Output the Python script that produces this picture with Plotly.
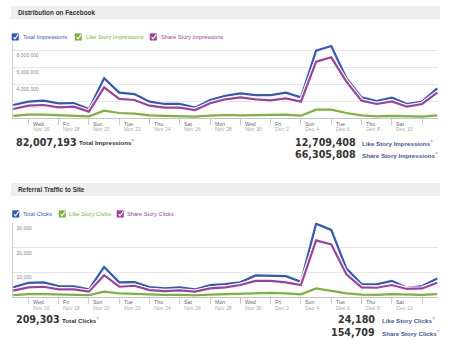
import pandas as pd
import plotly.graph_objects as go

W, H = 452, 355

# ---------------- data ----------------
dates = pd.date_range("2011-11-15", "2011-12-13", freq="D")

impr_names = ["Total Impressions", "Like Story Impressions", "Share Story Impressions"]
total_impr = [1.53, 1.92, 2.04, 1.73, 1.76, 1.06, 4.67, 2.98, 2.82, 1.92, 1.65, 1.65, 1.22, 2.12, 2.60,
              2.90, 2.70, 2.70, 2.98, 2.43, 7.92, 8.47, 4.67, 2.43, 2.00, 2.39, 1.65, 1.92, 3.49]
like_impr = [0.24, 0.39, 0.39, 0.35, 0.31, 0.20, 0.86, 0.59, 0.51, 0.31, 0.24, 0.24, 0.16, 0.27, 0.35,
             0.31, 0.31, 0.35, 0.39, 0.27, 0.98, 0.98, 0.59, 0.31, 0.20, 0.24, 0.16, 0.16, 0.31]
share_impr = [1.06, 1.45, 1.53, 1.26, 1.33, 0.75, 3.61, 2.24, 2.12, 1.45, 1.22, 1.22, 0.94, 1.73, 2.20,
              2.43, 2.20, 2.08, 2.31, 1.92, 6.63, 7.14, 4.27, 2.04, 1.65, 1.96, 1.33, 1.65, 2.98]

click_names = ["Total Clicks", "Like Story Clicks", "Share Story Clicks"]
total_clicks = [3.85, 5.7, 5.9, 4.4, 4.25, 3.0, 12.2, 5.9, 6.0, 4.0, 3.4, 3.85, 3.0, 4.8, 5.2,
                5.9, 8.7, 8.7, 8.4, 6.1, 29.8, 27.3, 11.5, 5.2, 5.1, 6.5, 3.7, 4.4, 7.5]
like_clicks = [0.7, 1.1, 1.1, 0.9, 0.9, 0.7, 2.1, 1.4, 1.2, 0.9, 0.8, 0.8, 0.55, 0.9, 1.1,
               1.4, 1.5, 1.6, 1.4, 1.0, 3.4, 2.5, 1.4, 0.9, 0.8, 1.1, 0.8, 0.8, 1.1]
share_clicks = [2.5, 3.85, 4.1, 3.0, 3.0, 2.1, 8.8, 4.1, 4.5, 2.75, 2.35, 2.6, 2.1, 3.4, 3.85,
                4.8, 6.5, 6.5, 5.9, 4.8, 23.0, 21.4, 9.2, 3.85, 3.7, 4.8, 3.2, 3.4, 5.7]

impr_totals = [82007193, 12709408, 66305808]
click_totals = [209303, 24180, 154709]

titles = ["Distribution on Facebook", "Referral Traffic to Site"]

tick_dates = pd.date_range("2011-11-16", "2011-12-10", freq="2D")
tick_days = ["Wed", "Fri", "Sun", "Tue", "Thu", "Sat", "Mon", "Wed", "Fri", "Sun", "Tue", "Thu", "Sat"]
tick_dates_txt = ["Nov 16", "Nov 18", "Nov 20", "Nov 22", "Nov 24", "Nov 26", "Nov 28",
                  "Nov 30", "Dec 2", "Dec 4", "Dec 6", "Dec 8", "Dec 10"]

impr_ticks = [2e6, 4e6, 6e6, 8e6]
impr_ticktext = ["2,000,000", "4,000,000", "6,000,000", "8,000,000"]
click_ticks = [10000, 20000, 30000]
click_ticktext = ["10,000", "20,000", "30,000"]

# ---------------- style ----------------
COLORS = ["#3158c0", "#7ab43c", "#a0409e"]
FB_BLUE = "#3b5998"
FONT = "Liberation Sans"
NUMFONT = "DejaVu Sans"


def X(px):
    return px / W


def Y(py):
    return 1 - py / H


fig = go.Figure()

# traces
impr_series = [total_impr, like_impr, share_impr]
click_series = [total_clicks, like_clicks, share_clicks]
for series, scale, ya in [(impr_series, 1e6, "y"), (click_series, 1e3, "y2")]:
    xa = "x" if ya == "y" else "x2"
    for vals, col in zip(series, COLORS):
        yv = [v * scale for v in vals]
        fig.add_trace(go.Scatter(x=dates, y=yv, mode="lines", xaxis=xa, yaxis=ya,
                                 line=dict(color="white", width=4.5), hoverinfo="skip",
                                 showlegend=False))
        fig.add_trace(go.Scatter(x=dates, y=yv, mode="lines", xaxis=xa, yaxis=ya,
                                 line=dict(color=col, width=2.2), showlegend=False))

day = pd.Timedelta(days=1)
xrange = [dates[0] - 0.05 * day, dates[-1] + 0.05 * day]

xcommon = dict(type="date", range=xrange, showgrid=False, zeroline=False,
               showline=True, linecolor="#c4c4c4", linewidth=1,
               ticks="outside", ticklen=6, tickwidth=1, tickcolor="#cccccc",
               tick0="2011-11-16", dtick=2 * 86400000, showticklabels=False,
               domain=[X(12.5), X(438)])
ycommon = dict(showgrid=True, gridcolor="#e6e6e6", gridwidth=1, zeroline=False,
               showline=True, linecolor="#cfcfcf", linewidth=1,
               ticks="", ticklabelposition="inside", ticklabelshift=5,
               ticklabelstandoff=2, ticklabeloverflow="allow", layer="below traces",
               tickfont=dict(family=FONT, size=5, color="#8a8a8a"))

fig.update_layout(
    width=W, height=H, autosize=False,
    margin=dict(l=0, r=0, t=0, b=0),
    paper_bgcolor="white", plot_bgcolor="white",
    showlegend=False,
    xaxis=dict(**xcommon, anchor="y"),
    xaxis2=dict(**xcommon, anchor="y2"),
    yaxis=dict(**ycommon, anchor="x", range=[0, 8.8e6],
               tickvals=impr_ticks, ticktext=impr_ticktext,
               domain=[Y(118), Y(43.2)]),
    yaxis2=dict(**ycommon, anchor="x2", range=[0, 30300],
                tickvals=click_ticks, ticktext=click_ticktext,
                domain=[Y(296.8), Y(222.5)]),
)

shapes = []
annotations = []

# title bands
for title, (y0, y1) in zip(titles, [(6, 19), (183, 196)]):
    shapes.append(dict(type="rect", xref="paper", yref="paper", x0=X(11), x1=X(440),
                       y0=Y(y1), y1=Y(y0), fillcolor="#eeeeee", line=dict(width=0), layer="below"))
    annotations.append(dict(text="<b>%s</b>" % title, xref="paper", yref="paper",
                            x=X(16), y=Y((y0 + y1) / 2), xanchor="left", yanchor="middle",
                            showarrow=False, font=dict(family=FONT, size=6.4, color="#333333")))


# legends with checkboxes
def checkbox(x, y, col):
    shapes.append(dict(type="rect", xref="paper", yref="paper", x0=X(x), x1=X(x + 6.5),
                       y0=Y(y + 3.2), y1=Y(y - 3.3), fillcolor=col, line=dict(color=col, width=0.6)))
    path = "M %f,%f L %f,%f L %f,%f" % (X(x + 1.6), Y(y + 0.2), X(x + 3.0), Y(y + 1.9),
                                        X(x + 6.3), Y(y - 2.6))
    shapes.append(dict(type="path", xref="paper", yref="paper", path=path,
                       line=dict(color="white", width=1.1)))


for names, ylg, boxes, texts in [
    (impr_names, 37, [12, 75, 150], [20.5, 83.5, 158.5]),
    (click_names, 214, [12.5, 59, 117], [20.5, 67, 124.5]),
]:
    for name, col, bx, tx in zip(names, COLORS, boxes, texts):
        checkbox(bx, ylg, col)
        annotations.append(dict(text=name, xref="paper", yref="paper", x=X(tx), y=Y(ylg),
                                xanchor="left", yanchor="middle", showarrow=False,
                                font=dict(family=FONT, size=5.7, color=col)))

# x tick labels (left aligned to the right of each tick)
for xa, ydom in [("x", "y domain"), ("x2", "y2 domain")]:
    for d, dn, dt in zip(tick_dates, tick_days, tick_dates_txt):
        annotations.append(dict(text=dn, xref=xa, yref=ydom, x=d, y=0, xanchor="left",
                                yanchor="middle", xshift=2.5, yshift=-5.5, showarrow=False,
                                font=dict(family=FONT, size=5.3, color="#666666")))
        annotations.append(dict(text=dt, xref=xa, yref=ydom, x=d, y=0, xanchor="left",
                                yanchor="middle", xshift=2.5, yshift=-11.3, showarrow=False,
                                font=dict(family=FONT, size=5.3, color="#aaaaaa")))

# totals
q = "<sup><span style='color:%s'>?</span></sup>" % FB_BLUE


def total_block(values, names, yl, yr1, yr2, left_x, label_x, right_x, rlabel_x):
    annotations.append(dict(text="<b>%s</b>" % f"{values[0]:,}", xref="paper", yref="paper",
                            x=X(left_x), y=Y(yl), xanchor="left", yanchor="middle", showarrow=False,
                            font=dict(family=NUMFONT, size=9.6, color="#333333")))
    annotations.append(dict(text="<b>%s</b>%s" % (names[0], q), xref="paper", yref="paper",
                            x=X(label_x), y=Y(yl + 0.3), xanchor="left", yanchor="middle",
                            showarrow=False, font=dict(family=FONT, size=6.2, color="#333333")))
    for v, n, yy in [(values[1], names[1], yr1), (values[2], names[2], yr2)]:
        annotations.append(dict(text="<b>%s</b>" % f"{v:,}", xref="paper", yref="paper",
                                x=X(right_x), y=Y(yy), xanchor="right", yanchor="middle",
                                showarrow=False, font=dict(family=NUMFONT, size=9.6, color="#333333")))
        annotations.append(dict(text="<b>%s</b>%s" % (n, q), xref="paper", yref="paper",
                                x=X(rlabel_x), y=Y(yy + 0.3), xanchor="left", yanchor="middle",
                                showarrow=False, font=dict(family=FONT, size=6.2, color=FB_BLUE)))


total_block(impr_totals, impr_names, 142, 142.3, 154.3, 13.5, 76.5, 357.5, 360)
total_block(click_totals, click_names, 319.3, 319.3, 332.3, 13.5, 59.5, 376.5, 379.5)

fig.update_layout(shapes=shapes, annotations=annotations)
fig.write_html("out.html", config={"displayModeBar": False},
               post_script="document.body.style.margin='0';document.body.style.overflow='hidden';")
